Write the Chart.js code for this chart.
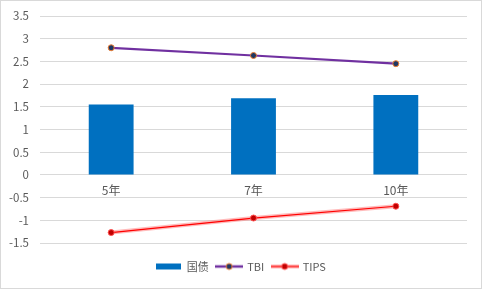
<!DOCTYPE html>
<html>
<head>
<meta charset="utf-8">
<script src="https://cdn.jsdelivr.net/npm/chart.js@4.4.0/dist/chart.umd.min.js"></script>
<style>
  html, body { margin: 0; padding: 0; background: #fff; }
  #wrap { width: 480px; height: 287px; border: 1px solid #d9d9d9; }
</style>
</head>
<body>
<div id="wrap"><canvas id="c" width="480" height="287"></canvas></div>
<script>
const categories = ['5年', '7年', '10年'];
const bondValues = [1.55, 1.69, 1.76];
const tbiValues = [2.8, 2.63, 2.45];
const tipsValues = [-1.27, -0.95, -0.69];
const yMin = -1.5, yMax = 3.5, yStep = 0.5;

const FONT = "'Noto Sans CJK SC', 'Noto Sans', sans-serif";

// little legend icons: line with a marker, or a flat box
function legendIcon(kind) {
  const c = document.createElement('canvas');
  c.width = kind === 'bar' ? 25 : 28; c.height = 10;
  const g = c.getContext('2d');
  if (kind === 'bar') {
    g.fillStyle = '#0070C0';
    g.fillRect(0, 2, 25, 6);
  } else if (kind === 'tbi') {
    g.strokeStyle = '#7030A0'; g.lineWidth = 2.5;
    g.beginPath(); g.moveTo(0, 5); g.lineTo(28, 5); g.stroke();
    g.fillStyle = '#1F3864'; g.strokeStyle = '#ED7D31'; g.lineWidth = 1;
    g.beginPath(); g.arc(14, 5, 3, 0, Math.PI * 2); g.fill(); g.stroke();
  } else {
    g.strokeStyle = 'rgba(255,120,120,0.5)'; g.lineWidth = 4;
    g.beginPath(); g.moveTo(0, 5); g.lineTo(28, 5); g.stroke();
    g.strokeStyle = '#FF0000'; g.lineWidth = 1.2;
    g.beginPath(); g.moveTo(0, 5); g.lineTo(28, 5); g.stroke();
    g.fillStyle = '#C00000'; g.strokeStyle = '#FF5050'; g.lineWidth = 1;
    g.beginPath(); g.arc(14, 5, 3, 0, Math.PI * 2); g.fill(); g.stroke();
  }
  return c;
}

// category labels sit next to the zero line, like Excel does
const zeroLabels = {
  id: 'zeroLabels',
  afterDatasetsDraw(chart) {
    const x = chart.scales.x, y = chart.scales.y;
    const ctx = chart.ctx;
    ctx.save();
    ctx.font = '12px ' + FONT;
    ctx.fillStyle = '#595959';
    ctx.textAlign = 'center';
    ctx.textBaseline = 'middle';
    categories.forEach((lab, i) => {
      ctx.fillText(lab, x.getPixelForValue(i), y.getPixelForValue(0) + 16);
    });
    ctx.restore();
  }
};

new Chart(document.getElementById('c'), {
  data: {
    labels: categories,
    datasets: [
      {
        type: 'line', label: 'TBI', data: tbiValues, order: 1,
        borderColor: '#7030A0', borderWidth: 2.2,
        pointRadius: 3, pointBackgroundColor: '#1F3864', pointBorderColor: '#ED7D31', pointBorderWidth: 1,
        legendIcon: legendIcon('tbi')
      },
      {
        type: 'line', label: 'TIPS', data: tipsValues, order: 1,
        borderColor: '#FF0000', borderWidth: 1.2,
        pointRadius: 3, pointBackgroundColor: '#C00000', pointBorderColor: '#FF5050', pointBorderWidth: 1,
        legendIcon: legendIcon('tips')
      },
      {
        type: 'line', label: '_halo', data: tipsValues, order: 2,
        borderColor: 'rgba(255,120,120,0.5)', borderWidth: 4, pointRadius: 0
      },
      {
        type: 'bar', label: '国债', data: bondValues, order: 3,
        backgroundColor: '#0070C0', barPercentage: 0.315, categoryPercentage: 1,
        legendIcon: legendIcon('bar')
      }
    ]
  },
  options: {
    responsive: false,
    animation: false,
    events: [],
    layout: { padding: { top: 15, right: 0, bottom: 6, left: 0 } },
    scales: {
      x: {
        grid: { display: false },
        border: { display: false },
        ticks: { display: false },
        afterFit(s) { s.height = 10; }
      },
      y: {
        min: yMin, max: yMax,
        grid: { color: '#d9d9d9', drawTicks: false },
        border: { display: false },
        ticks: {
          stepSize: yStep, padding: 11,
          color: '#595959', font: { size: 11.5, family: FONT },
          callback: (v) => String(Math.round(v * 10) / 10)
        },
        afterFit(s) { s.width = 39; s.paddingTop = 0; s.paddingBottom = 0; }
      },
      // empty right margin so the legend stays centred on the whole chart
      yRight: {
        position: 'right',
        grid: { display: false },
        border: { display: false },
        ticks: { display: false },
        afterFit(s) { s.width = 14; s.paddingTop = 0; s.paddingBottom = 0; }
      }
    },
    plugins: {
      tooltip: { enabled: false },
      legend: {
        position: 'bottom',
        labels: {
          usePointStyle: true,
          pointStyleWidth: 25,
          padding: 8,
          color: '#595959',
          font: { size: 11, family: FONT },
          filter: (item) => item.text !== '_halo',
          sort: (a, b) => ['国债', 'TBI', 'TIPS'].indexOf(a.text) - ['国债', 'TBI', 'TIPS'].indexOf(b.text),
          generateLabels(chart) {
            return chart.data.datasets.map((ds, i) => ({
              text: ds.label,
              pointStyle: ds.legendIcon,
              fontColor: '#595959',
              lineWidth: 0,
              strokeStyle: 'transparent',
              fillStyle: 'transparent',
              datasetIndex: i,
              hidden: false
            }));
          }
        }
      }
    }
  },
  plugins: [zeroLabels]
});
</script>
</body>
</html>
